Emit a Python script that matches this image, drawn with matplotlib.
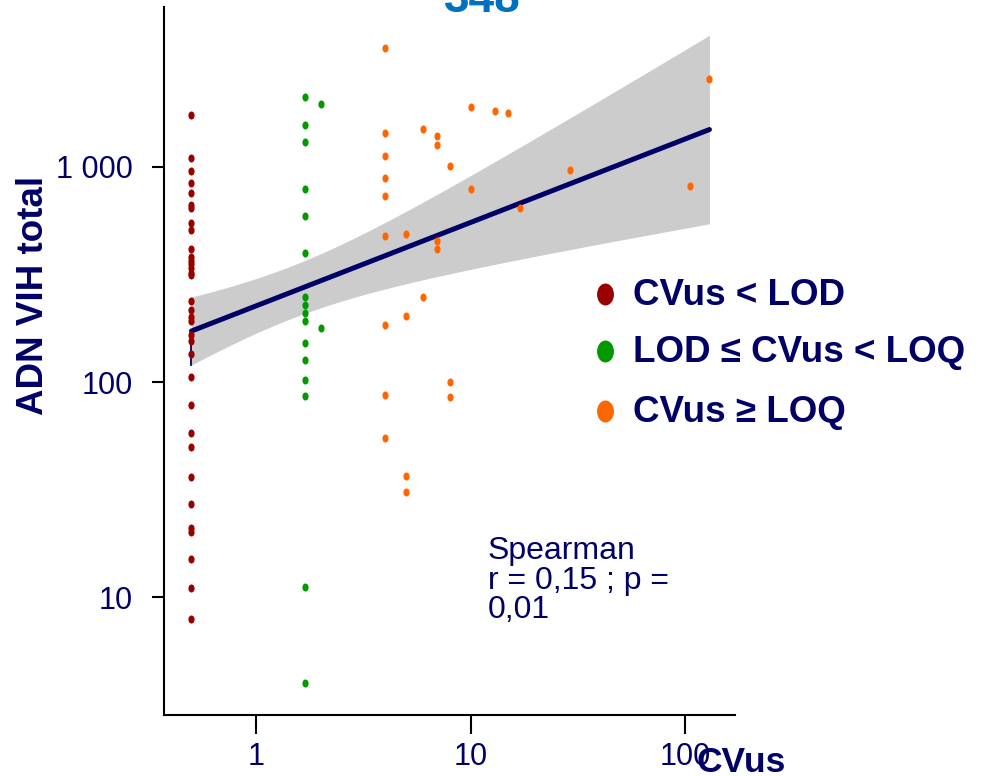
import numpy as np
import matplotlib
matplotlib.use("Agg")
import matplotlib.pyplot as plt
from matplotlib.path import Path
from matplotlib.transforms import Affine2D

plt.rcParams['font.family'] = ['Liberation Sans', 'DejaVu Sans']

# CVus < LOD : all plotted at CVus = 0.5
below_lod_cvus = 0.5
below_lod_adn = [1745, 1100, 955, 845, 760, 665, 645, 548, 507, 416, 381, 367,
                 353, 340, 322, 315, 239, 217, 201, 193, 166, 155, 135, 106,
                 78, 58, 50, 36, 27, 21, 20, 15, 11, 7.9]

# LOD <= CVus < LOQ
mid_cvus = [1.7, 1.7, 1.7, 1.7, 1.7, 1.7, 1.7, 1.7, 1.7, 1.7, 1.7, 1.7,
            1.7, 1.7, 1.7, 1.7, 2.0, 2.0]
mid_adn = [2118, 1566, 1311, 789, 592, 397, 249, 227, 209, 192, 152, 126,
           102, 86, 11.1, 4.0, 1963, 178]

# CVus >= LOQ
high_cvus = [4, 4, 4, 4, 4, 4, 4, 4, 4,
             5, 5, 5, 5,
             6, 6,
             7, 7, 7, 7,
             8, 8, 8,
             10, 10,
             13, 15, 17, 29, 106, 130]
high_adn = [3565, 1435, 1125, 892, 736, 477, 185, 87, 55,
            488, 203, 36.6, 30.7,
            1497, 248,
            1393, 1270, 454, 415,
            1008, 100, 85,
            1901, 788,
            1829, 1790, 647, 969, 816, 2558]

# linear fit on log10 scales, with its confidence band
fit_intercept = 2.354
fit_slope = 0.388
ci_center = 0.163
ci_floor = 0.01496
ci_spread = 0.04657

group_labels = ["CVus < LOD", "LOD \u2264 CVus < LOQ", "CVus \u2265 LOQ"]
group_colors = ["#990000", "#009900", "#FF6600"]

navy = "#000066"

fig = plt.figure(figsize=(9.84, 7.76), dpi=100)
ax = fig.add_axes([164 / 984, 1 - 715 / 776, (735 - 164) / 984, (715 - 7) / 776])

all_cvus = np.concatenate([[below_lod_cvus] * len(below_lod_adn), mid_cvus, high_cvus])
lx = np.linspace(np.log10(all_cvus.min()), np.log10(all_cvus.max()), 200)
fit = fit_intercept + fit_slope * lx
half = np.sqrt(ci_floor + ci_spread * (lx - ci_center) ** 2)

ax.fill_between(10 ** lx, 10 ** (fit - half), 10 ** (fit + half),
                color="#CCCCCC", lw=0, zorder=1)
ax.plot(10 ** lx, 10 ** fit, color=navy, lw=3.6, solid_capstyle="round", zorder=3)
ax.plot([10 ** lx[0], 10 ** lx[0]], [10 ** fit[0], 10 ** (fit[0] - half[0])],
        color=navy, lw=1.3, zorder=3)

# slightly tall dots
dot = Path.unit_circle().transformed(Affine2D().scale(0.77, 1.0))

ax.plot([below_lod_cvus] * len(below_lod_adn), below_lod_adn, ls="none",
        marker=dot, ms=5.8, color=group_colors[0], mew=0, zorder=4)
ax.plot(mid_cvus, mid_adn, ls="none", marker=dot, ms=5.8,
        color=group_colors[1], mew=0, zorder=4)
ax.plot(high_cvus, high_adn, ls="none", marker=dot, ms=5.8,
        color=group_colors[2], mew=0, zorder=4)

ax.set_xscale("log")
ax.set_yscale("log")
ax.set_xlim(0.3724, 171)
ax.set_ylim(2.83, 5546)
ax.set_xticks([1, 10, 100])
ax.set_xticklabels(["1", "10", "100"])
ax.set_yticks([10, 100, 1000])
ax.set_yticklabels(["10", "100", "1 000"])
ax.minorticks_off()

for side in ["top", "right"]:
    ax.spines[side].set_visible(False)
for side in ["left", "bottom"]:
    ax.spines[side].set_linewidth(1.5)

ax.tick_params(axis="x", length=13.5, width=1.5, pad=6, labelsize=22, labelcolor=navy)
ax.tick_params(axis="y", length=8.6, width=1.5, pad=14, labelsize=22, labelcolor=navy)

fig.text(33.5 / 984, 1 - 295 / 776, "ADN VIH total", rotation=90, ha="center",
         va="center", fontsize=26.5, fontweight="bold", color=navy)
fig.text(697 / 984, 1 - 772 / 776, "CVus", ha="left", va="baseline",
         fontsize=25.5, fontweight="bold", color=navy)
fig.text(482 / 984, 1 - 12 / 776, "348", ha="center", va="baseline",
         fontsize=33, fontweight="bold", color="#0070C0")

# baseline of the last line
fig.text(488 / 984, 1 - 618 / 776, "Spearman\nr = 0,15 ; p =\n0,01", ha="left",
         va="baseline", fontsize=23, color=navy, linespacing=0.97)

# legend
legend_rows = [305, 362, 422]
for lab, col, yb in zip(group_labels, group_colors, legend_rows):
    ax.plot([605 / 984], [1 - (yb - 11) / 776], transform=fig.transFigure,
            marker=dot, ms=15.8, color=col, mew=0, ls="none", clip_on=False)
    fig.text(633 / 984, 1 - yb / 776, lab, ha="left", va="baseline",
             fontsize=26.5, fontweight="bold", color=navy)

fig.savefig("out.png", dpi=100)
